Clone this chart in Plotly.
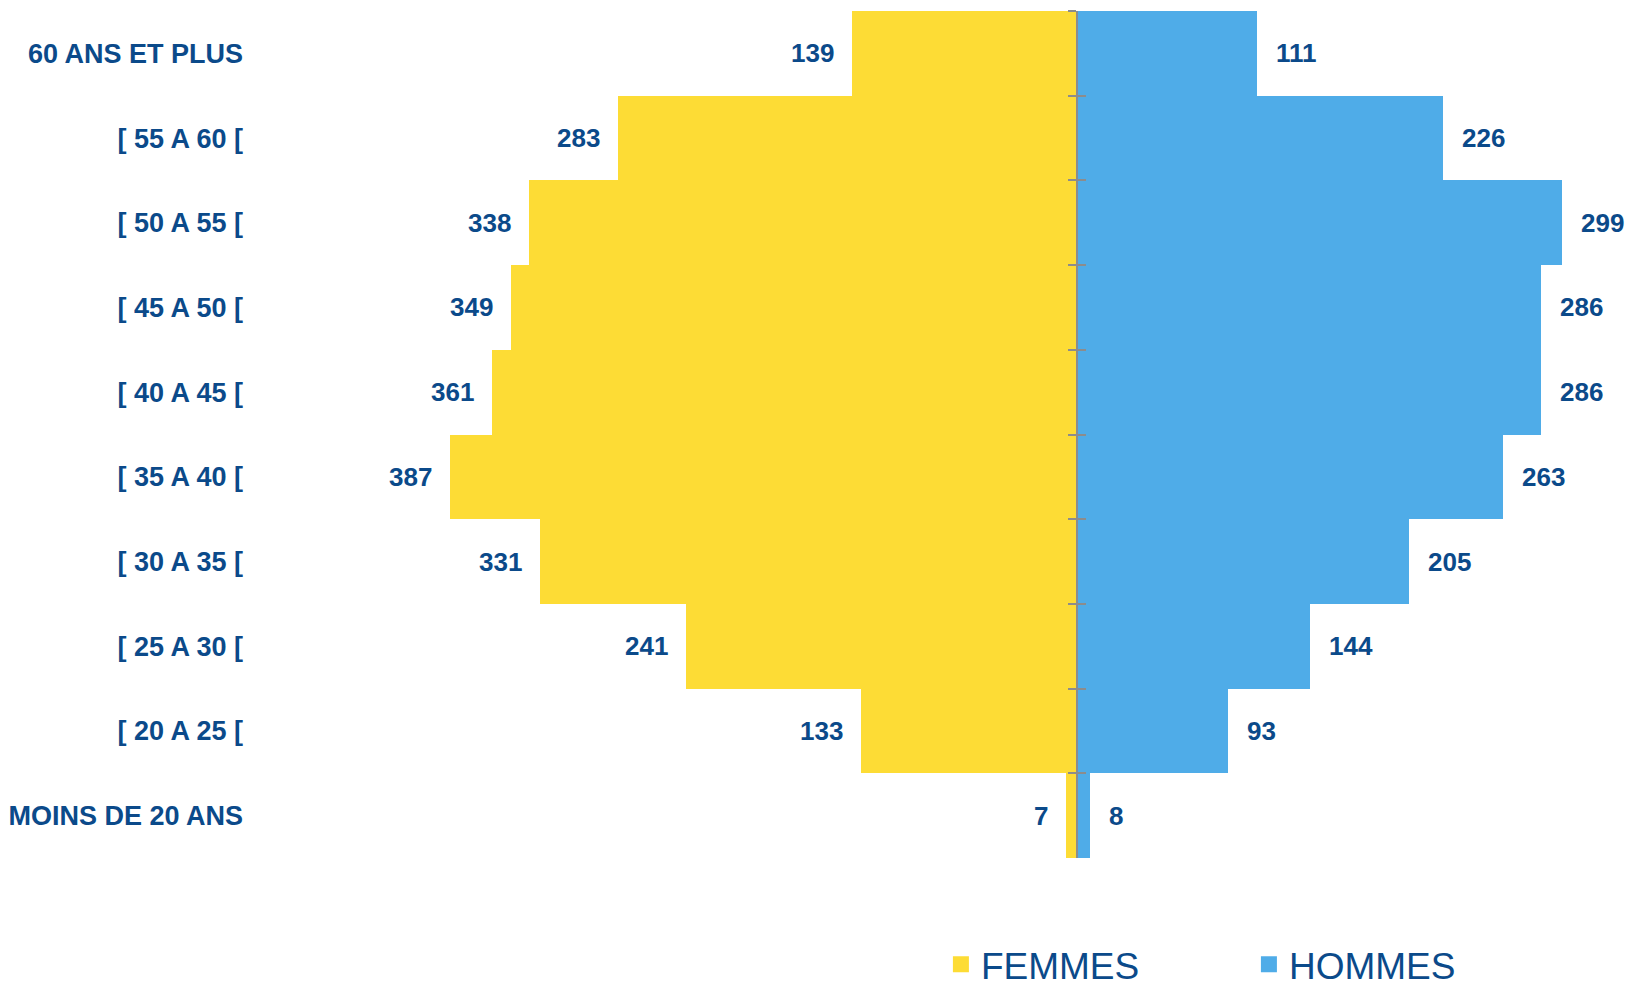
import plotly.graph_objects as go

categories = ["60 ANS ET PLUS", "[ 55 A 60 [", "[ 50 A 55 [", "[ 45 A 50 [", "[ 40 A 45 [",
              "[ 35 A 40 [", "[ 30 A 35 [", "[ 25 A 30 [", "[ 20 A 25 [", "MOINS DE 20 ANS"]
femmes = [139, 283, 338, 349, 361, 387, 331, 241, 133, 7]
hommes = [111, 226, 299, 286, 286, 263, 205, 144, 93, 8]
series_names = ["FEMMES", "HOMMES"]

YELLOW = "#FDDC35"
BLUE = "#4FACE8"
TXT = "#0B4A8A"
FONT = "Liberation Sans, Arial, sans-serif"

XMIN, XMAX = -510.2, 340.5

fig = go.Figure()
fig.add_trace(go.Bar(y=categories, x=[-v for v in femmes], orientation="h", name=series_names[0],
                     marker=dict(color=YELLOW, line=dict(width=0)), hoverinfo="skip", showlegend=False))
fig.add_trace(go.Bar(y=categories, x=hommes, orientation="h", name=series_names[1],
                     marker=dict(color=BLUE, line=dict(width=0)), hoverinfo="skip", showlegend=False))

# legend entries with larger square symbols
for nm, col in zip(series_names, (YELLOW, BLUE)):
    fig.add_trace(go.Scatter(x=[None], y=[None], mode="markers", name=nm,
                             marker=dict(symbol="square", size=16, color=col), hoverinfo="skip"))

# center axis with ticks on both sides
for ax in ("y2", "y3"):
    fig.add_trace(go.Bar(y=categories, x=[0] * len(categories), orientation="h",
                         yaxis=ax, showlegend=False, hoverinfo="skip",
                         marker=dict(color="rgba(0,0,0,0)")))

annotations = []
for c, f, h in zip(categories, femmes, hommes):
    annotations.append(dict(x=-f, y=c, text=str(f), xanchor="right", xshift=-16,
                            showarrow=False, font=dict(family=FONT, size=26, color=TXT, weight="bold")))
    annotations.append(dict(x=h, y=c, text=str(h), xanchor="left", xshift=17,
                            showarrow=False, font=dict(family=FONT, size=26, color=TXT, weight="bold")))

pos0 = (0 - XMIN) / (XMAX - XMIN)
axis_common = dict(type="category", categoryorder="array", categoryarray=categories,
                   autorange="reversed", overlaying="y", anchor="free", position=pos0,
                   showline=True, linecolor="#8C8C8C", linewidth=2, showticklabels=False,
                   tickson="boundaries", ticklen=8, tickcolor="#8C8C8C", tickwidth=2,
                   showgrid=False, zeroline=False, automargin=False)

fig.update_layout(
    width=1629, height=989,
    margin=dict(l=250, r=0, t=11, b=131, autoexpand=False),
    plot_bgcolor="white", paper_bgcolor="white",
    barmode="overlay", bargap=0,
    xaxis=dict(range=[XMIN, XMAX], visible=False, showgrid=False, zeroline=False,
               fixedrange=True, automargin=False),
    yaxis=dict(type="category", categoryorder="array", categoryarray=categories,
               autorange="reversed", showgrid=False, zeroline=False, showline=False, ticks="",
               ticklabelstandoff=6, automargin=False,
               tickfont=dict(family=FONT, size=27, color=TXT, weight="bold")),
    yaxis2=dict(**axis_common, ticks="outside"),
    yaxis3=dict(**axis_common, ticks="inside"),
    annotations=annotations,
    showlegend=True,
    legend=dict(orientation="h", xref="container", x=0.5776, xanchor="left",
                yref="container", y=0.056, yanchor="top",
                font=dict(family=FONT, size=37, color=TXT),
                entrywidth=263, itemwidth=30, traceorder="normal", bgcolor="rgba(0,0,0,0)"),
)

fig.write_html("out.html", config={"displayModeBar": False},
               post_script="document.body.style.margin='0';document.body.style.overflow='hidden';")
